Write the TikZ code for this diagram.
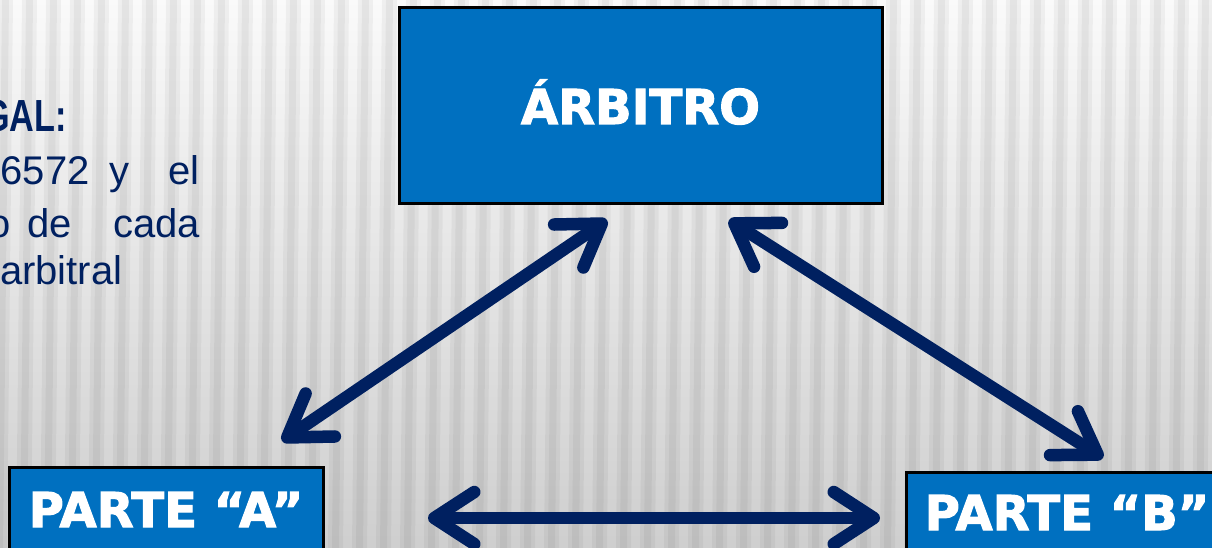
\documentclass[tikz,border=0pt]{standalone}
\usepackage{fontspec}
\setmainfont{Liberation Sans}
\newfontfamily\legalfont[BoldFeatures={FakeStretch=0.76}]{Liberation Sans}
\newfontfamily\boxfont[BoldFeatures={FakeBold=2.2}]{DejaVu Sans}
\usetikzlibrary{arrows.meta}
\definecolor{boxblue}{HTML}{0070C0}
\definecolor{navy}{HTML}{002060}
\tikzset{
  rolebox/.style={draw=black, line width=3pt, fill=boxblue, text=white, inner sep=0pt,
    font=\boxfont\bfseries\fontsize{48}{48}\selectfont},
  linkarrow/.style={draw=navy, line width=12.5pt, line cap=round,
    {Straight Barb[length=40pt,width=52pt,round]}-{Straight Barb[length=40pt,width=52pt,round]}},
  legaltext/.style={text=navy, inner sep=0pt, font=\legalfont\fontsize{40}{40}\selectfont}
}
\begin{document}
\begin{tikzpicture}[x=1pt,y=-1pt]
\useasboundingbox (0,0) rectangle (1212,548);
\clip (0,0) rectangle (1212,548);
% background
\shade[top color=black!2, bottom color=black!19] (0,0) rectangle (1212,548);
\foreach \i in {0,...,52}{
  \fill[black, opacity=0.045] (\i*24-2,0) -- (\i*24+13,0) -- (\i*24+7,548) -- (\i*24-8,548) -- cycle;
  \fill[black, opacity=0.045] (\i*24+2,0) -- (\i*24+9,0) -- (\i*24+3,548) -- (\i*24-4,548) -- cycle;
}
% left text
\node[legaltext, anchor=base east, font=\legalfont\bfseries\fontsize{45}{45}\selectfont] (t1) at (67,132) {GAL:};
\node[legaltext, anchor=base east] (t2) at (200,185) {6572\hspace{20pt}y\hspace{39pt}el};
\node[legaltext, anchor=base east] (t3) at (200,237) {o\hspace{17pt}de\hspace{41pt}cada};
\node[legaltext, anchor=base west] (t4) at (0,284) {arbitral};
% boxes
\node[rolebox, minimum width=483pt, minimum height=196pt, text height=36pt, text depth=0pt] (arb) at (640.5,106) {ÁRBITRO};
\node[rolebox, minimum width=314pt, minimum height=93pt, text height=37pt, text depth=10pt] (pa) at (166,513.5) {PARTE “A”};
\node[rolebox, minimum width=322pt, minimum height=90pt, text height=37pt, text depth=11pt] (pb) at (1067,517) {PARTE “B”};
% arrow end points
\coordinate (a1) at (282,441);
\coordinate (a2) at (607,220);
\coordinate (b1) at (729,220);
\coordinate (b2) at (1103,458);
\coordinate (c1) at (428,518);
\coordinate (c2) at (880,518);
\draw[linkarrow] (a1) -- (a2);
\draw[linkarrow] (b1) -- (b2);
\draw[linkarrow] (c1) -- (c2);
\end{tikzpicture}
\end{document}
